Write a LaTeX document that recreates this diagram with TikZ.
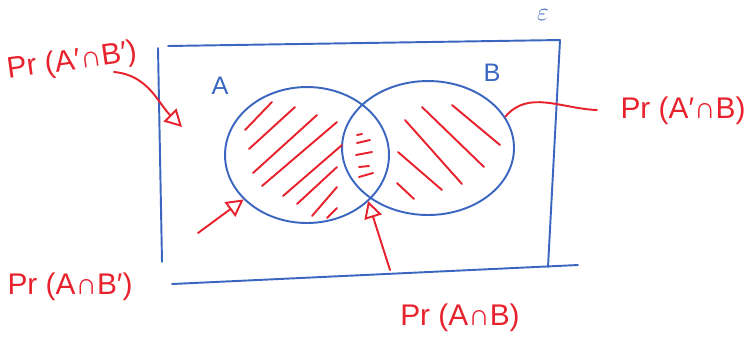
\documentclass[tikz,border=0pt]{standalone}
\usepackage{fontspec}
\newfontfamily\handfont{Liberation Sans}
\usetikzlibrary{arrows.meta,shapes.geometric}
\definecolor{penred}{HTML}{E8222D}
\definecolor{penblue}{HTML}{3A66C0}
\tikzset{
  blueink/.style={draw=penblue,line width=1.1pt,line cap=round},
  redink/.style={draw=penred,line width=1.1pt,line cap=round},
  setshape/.style={ellipse,blueink,inner sep=0pt},
  arr/.style={redink,-{Triangle[open,length=3.4mm,width=3.6mm]}},
  prlabel/.style={text=penred,font=\handfont\fontsize{17}{20}\selectfont,inner sep=0pt},
  setlabel/.style={text=penblue,font=\handfont\Large,inner sep=0pt}
}

\begin{document}
\begin{tikzpicture}[x=0.02cm,y=-0.02cm]
\useasboundingbox (0,0) rectangle (749,343);
% universal set
\draw[blueink] (168,46) -- (560,40);
\draw[blueink] (560,40) -- (548,267);
\draw[blueink] (172,284) -- (578,265);
\draw[blueink] (158,48) -- (162,262);
\node[setlabel] (univ) at (543,15) {$\varepsilon$};
% the two sets
\node[setshape,minimum width=3.28cm,minimum height=2.72cm] (setA) at (307,155) {};
\node[setshape,minimum width=3.44cm,minimum height=2.68cm] (setB) at (428,148) {};
\node[setlabel] (lblA) at (220,86) {A};
\node[setlabel] (lblB) at (492,73) {B};
% hatching
\foreach \xa/\ya/\xb/\yb in {245/130/272/102, 249/149/295/107, 253/173/317/115,
  262/186/337/122, 283/196/342/145, 297/204/337/167, 312/216/337/187, 327/218/337/208}
  \draw[redink] (\xa,\ya) -- (\xb,\yb);
\foreach \xa/\ya/\xb/\yb in {357/135/362/134, 357/143/370/140, 356/155/372/152,
  359/167/369/166, 359/177/373/173}
  \draw[redink] (\xa,\ya) -- (\xb,\yb);
\foreach \xa/\ya/\xb/\yb in {422/107/484/167, 452/105/500/145, 405/120/462/184,
  398/152/442/190, 397/183/414/199}
  \draw[redink] (\xa,\ya) -- (\xb,\yb);
% probability labels
\node[prlabel,rotate=8] (pAcBc) at (72,62) {Pr (A′∩B′)};
\node[prlabel] (pAcB) at (683,111) {Pr (A′∩B)};
\node[prlabel] (pABc) at (70,287) {Pr (A∩B′)};
\node[prlabel] (pAB) at (460,318) {Pr (A∩B)};
\coordinate (outside) at (182,127);
\coordinate (lowcross) at (368,201);
\coordinate (tailAcBc) at (114,72);
\coordinate (tailAcB) at (597,110);
\coordinate (tailABc) at (198,233);
\coordinate (tailAB) at (390,270);
\draw[arr] (tailAcBc) to[out=-5,in=135] (outside);
\draw[redink] (setB.22) to[out=50,in=178] (tailAcB);
\draw[arr] (tailABc) -- (setA.215);
\draw[arr] (tailAB) -- (lowcross);
\end{tikzpicture}
\end{document}
